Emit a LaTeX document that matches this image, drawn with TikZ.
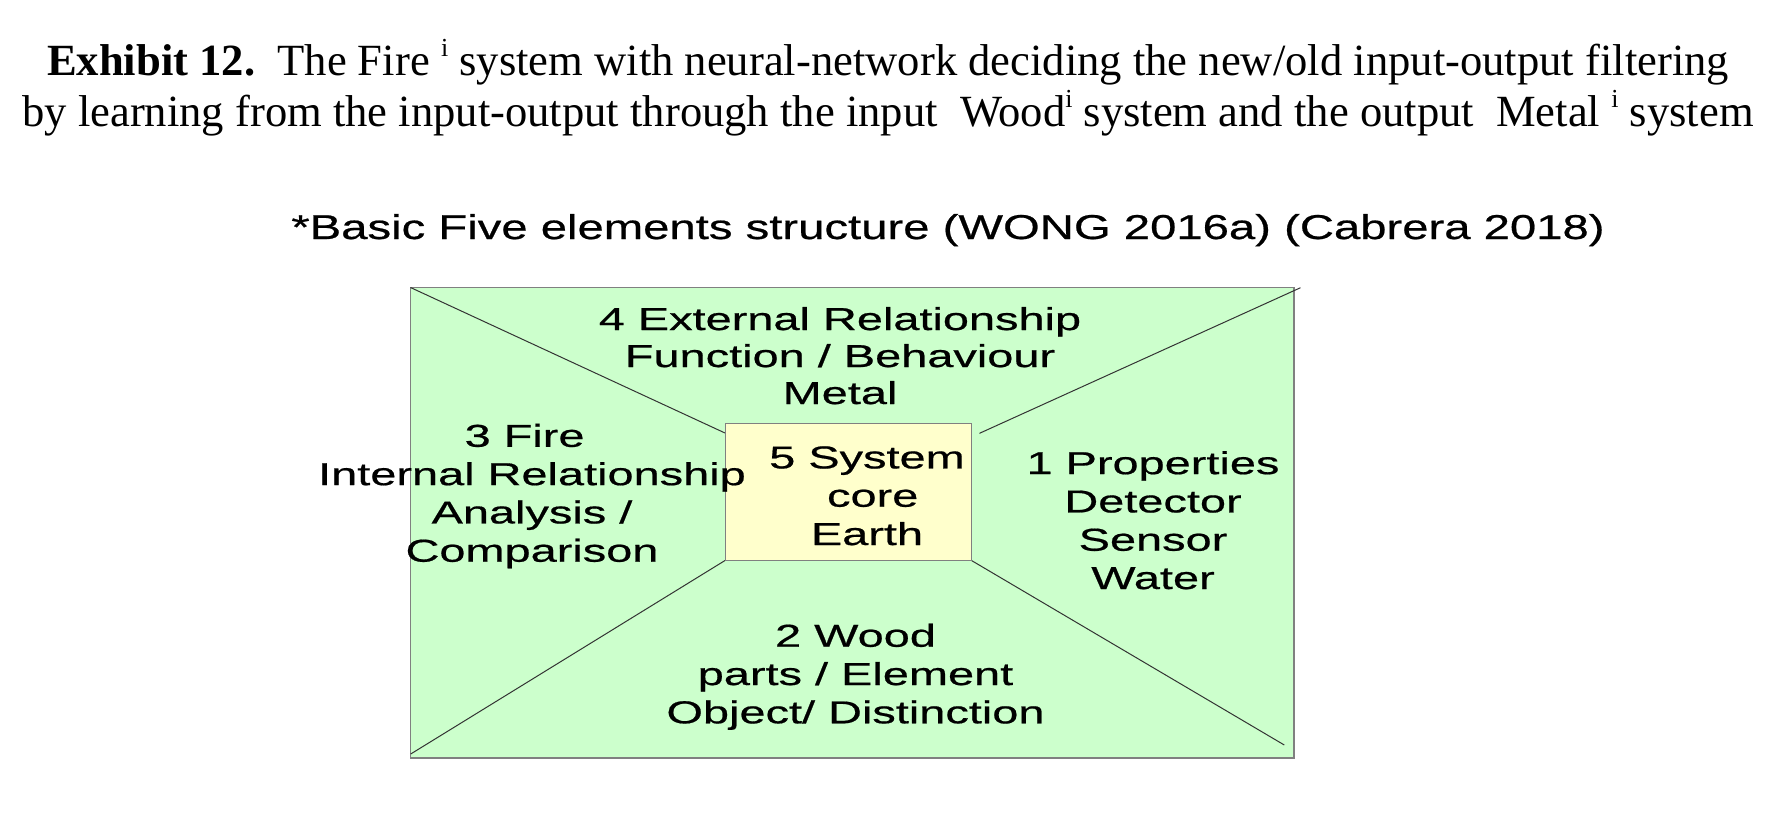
\documentclass[tikz,border=0pt]{standalone}
\usepackage{fontspec}
\setmainfont{Liberation Serif}
\newfontfamily\boxfont[FakeStretch=1.48,FakeBold=0.6]{Liberation Sans}
\newfontfamily\subfont[FakeStretch=1.37,FakeBold=0.6]{Liberation Sans}
\newcommand{\supi}{\raisebox{0.42em}{\fontsize{26}{26}\selectfont i}}
\definecolor{panelgreen}{HTML}{CCFFCC}
\definecolor{coreyellow}{HTML}{FFFFCC}
\definecolor{edgegray}{HTML}{808080}
\definecolor{diaggray}{HTML}{333333}
\tikzset{
  boxtext/.style={anchor=base, align=center, inner sep=0pt, font=\boxfont\fontsize{31.7}{38.3}\selectfont},
  diagline/.style={draw=diaggray, line width=1pt},
  panel/.style={fill=panelgreen, draw=edgegray, line width=1.3pt},
  corebox/.style={fill=coreyellow, draw=edgegray, line width=1pt}
}
\begin{document}
\begin{tikzpicture}[x=1pt,y=-1pt]
\useasboundingbox (0,0) rectangle (1790,839);
% title (anchor base = baseline of the last line)
\node[anchor=base, align=center, inner sep=0pt, font=\fontsize{44.6}{51}\selectfont] (title) at (888,126.7)
  {\textbf{Exhibit 12.}\ \ The Fire \supi\ system with neural-network deciding the new/old input-output filtering\\
   by learning from the input-output through the input\ \ Wood\supi\ system and the output\ \ Metal \supi\ system};
\node[anchor=base, inner sep=0pt, font=\subfont\fontsize{34.5}{40}\selectfont] (subtitle) at (948,239)
  {*Basic Five elements structure (WONG 2016a) (Cabrera 2018)};
% outer panel
\coordinate (otl) at (410.5,287.5);
\coordinate (obr) at (1294,758);
\coordinate (itl) at (725,423.5);
\coordinate (ibr) at (971.5,560.5);
\coordinate (ibl) at (725,560.5);
\coordinate (d1a) at (725,433);
\coordinate (d2a) at (1300.5,287.7);
\coordinate (d2b) at (979.5,433.3);
\coordinate (d3b) at (410.7,754);
\coordinate (d4b) at (1284.3,745);
\draw[panel] (otl) rectangle (obr);
\draw[diagline] (otl) -- (d1a);
\draw[diagline] (d2a) -- (d2b);
\draw[diagline] (ibl) -- (d3b);
\draw[diagline] (ibr) -- (d4b);
\draw[corebox] (itl) rectangle (ibr);
% texts (anchor base = baseline of the last line)
\node[boxtext, font=\boxfont\fontsize{31.7}{37}\selectfont] (metal) at (840,404)
  {4 External Relationship\\Function / Behaviour\\Metal};
\node[boxtext] (fire) at (532,561.7)
  {3 Fire\hspace*{14.8pt}\\Internal Relationship\\Analysis /\\Comparison};
\node[boxtext] (earth) at (867,545)
  {5 System\\\hspace*{11.4pt}core\\Earth};
\node[boxtext] (water) at (1153,589)
  {1 Properties\\Detector\\Sensor\\Water};
\node[boxtext] (wood) at (855.5,723.3)
  {2 Wood\\parts / Element\\Object/ Distinction};
\end{tikzpicture}
\end{document}
